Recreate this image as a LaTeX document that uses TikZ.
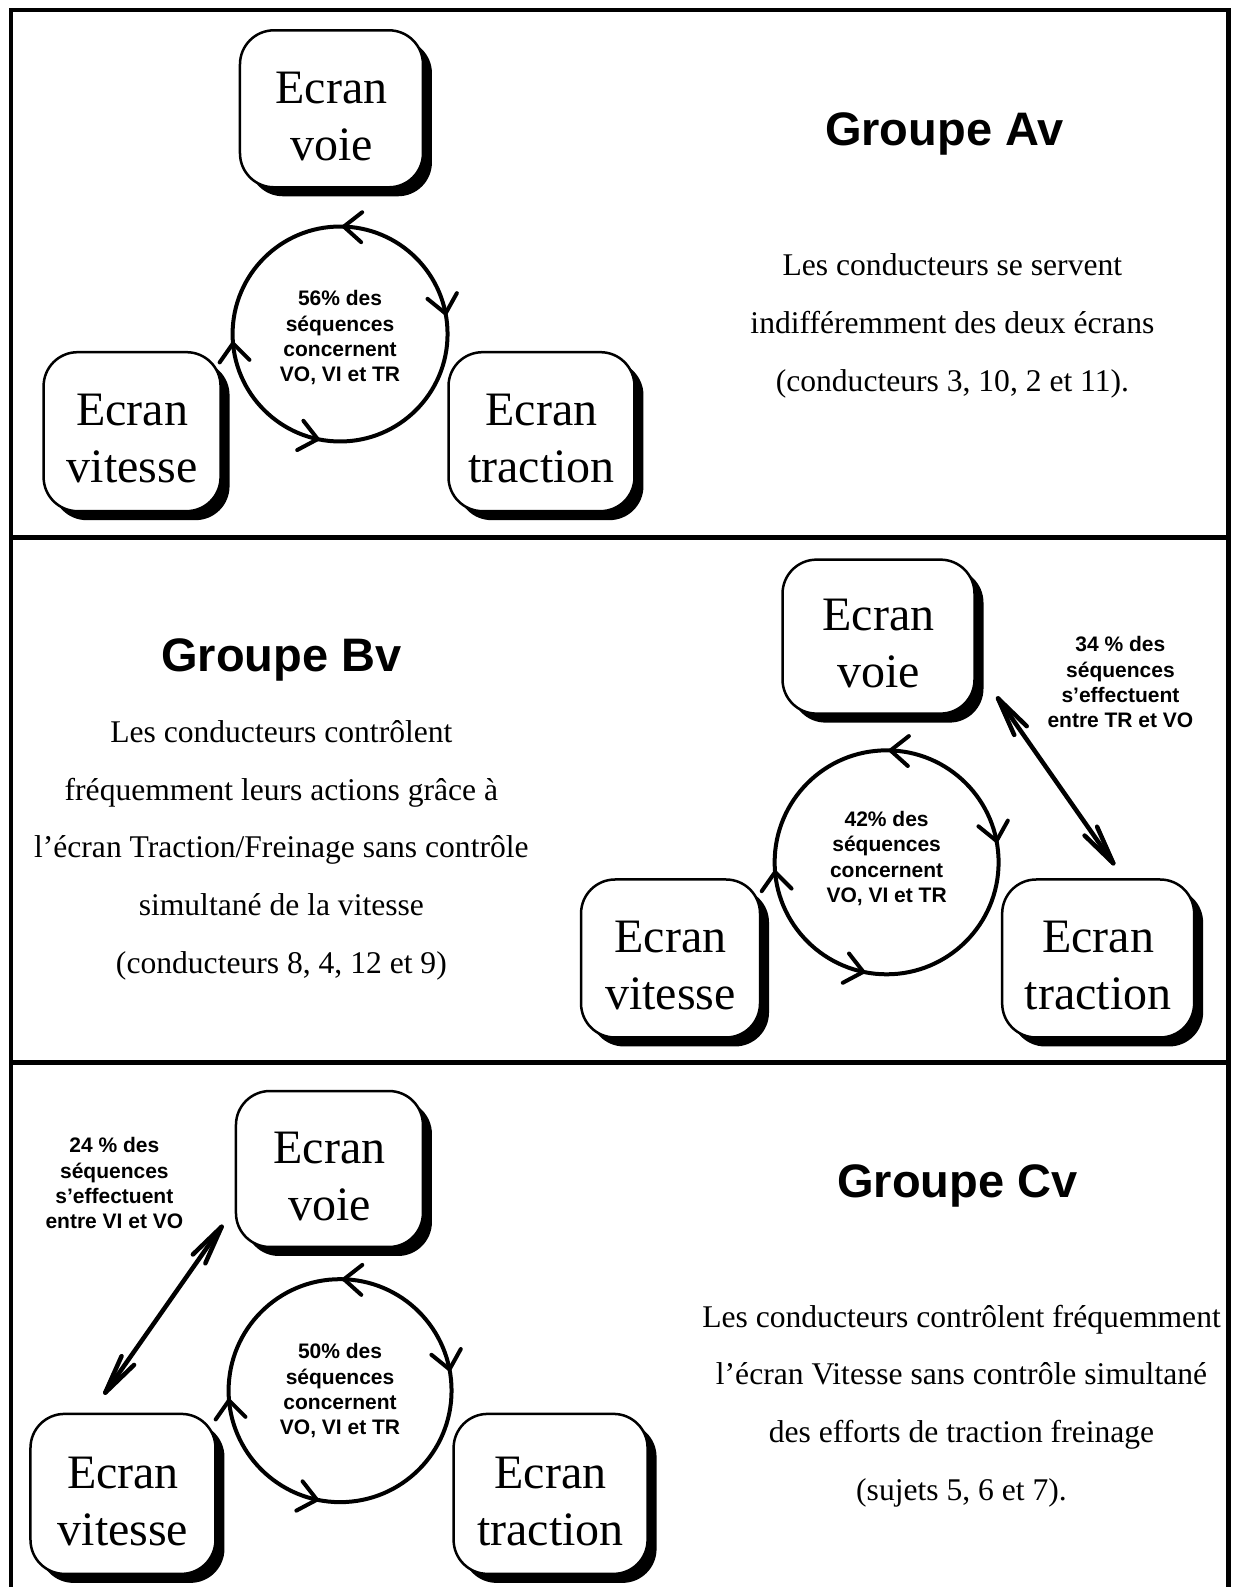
\documentclass[tikz,border=0pt]{standalone}
\usepackage{fontspec}
\setmainfont{Liberation Serif}
\setsansfont{Liberation Sans}
\usetikzlibrary{shadows,calc}
\newcommand\ecr[1]{\rule{0pt}{46pt}Ecran\\#1}
\tikzset{
 ecran/.style={draw, line width=2.5pt, rounded corners=34pt, fill=white, align=center,
   font=\fontsize{48}{57}\selectfont, inner sep=0pt, outer sep=0pt,
   drop shadow={fill=black, opacity=1, shadow xshift=9pt, shadow yshift=-9pt}},
 cyc/.style={draw, circle, line width=4pt, align=center, inner sep=0pt, outer sep=0pt,
   font=\sffamily\bfseries\fontsize{21}{25.3}\selectfont},
 titre/.style={font=\sffamily\bfseries\fontsize{47}{56}\selectfont},
 corps/.style={align=center, font=\fontsize{31.6}{57.7}\selectfont},
 pct/.style={align=center, font=\sffamily\bfseries\fontsize{21}{25.3}\selectfont},
 trait/.style={line width=4pt, line cap=round, line join=round},
 fleche/.style={line width=4.5pt, line cap=round, line join=round},
 cadre/.style={line width=4.5pt},
}
\begin{document}
\begin{tikzpicture}[x=1.0123pt, y=-1.0123pt]
\useasboundingbox (0,0) rectangle (1224,1568);
% frame
\draw[cadre] (11,1575) -- (11,10) -- (1214,10) -- (1214,1575);
\draw[cadre] (11,531) -- (1214,531);
\draw[cadre] (11,1050) -- (1214,1050);

% ---------- Panel A ----------
\node[ecran, minimum width=183pt, minimum height=157pt] (aVoie) at (327.5,107.5) {\ecr{voie}};
\node[ecran, minimum width=177pt, minimum height=159pt] (aVit) at (130.5,426.5) {\ecr{vitesse}};
\node[ecran, minimum width=186pt, minimum height=159pt] (aTrac) at (535,426.5) {\ecr{traction}};
\node[cyc, minimum size=215pt] (cA) at (336,330) {\rule{0pt}{23pt}56\% des\\séquences\\concernent\\VO, VI et TR};
\node[titre] (tA) at (933,132) {Groupe Av};
\node[corps] (bA) at (941,322) {Les conducteurs se servent\\indifféremment des deux écrans\\(conducteurs 3, 10, 2 et 11).};

% ---------- Panel B ----------
\node[ecran, minimum width=192pt, minimum height=154pt] (bVoie) at (868,629) {\ecr{voie}};
\node[ecran, minimum width=179pt, minimum height=158pt] (bVit) at (662.5,947) {\ecr{vitesse}};
\node[ecran, minimum width=192pt, minimum height=158pt] (bTrac) at (1085,947) {\ecr{traction}};
\node[cyc, minimum size=224pt] (cB) at (876,852) {42\% des\\séquences\\concernent\\VO, VI et TR\rule[-11pt]{0pt}{0pt}};
\node[titre] (tB) at (278,652) {Groupe Bv};
\node[corps] (bB) at (278,840) {Les conducteurs contrôlent\\fréquemment leurs actions grâce à\\l’écran Traction/Freinage sans contrôle\\simultané de la vitesse\\(conducteurs 8, 4, 12 et 9)};
\node[pct] (pB) at (1107,674) {34 \% des\\séquences\\s’effectuent\\entre TR et VO};
\coordinate (bA1) at (986,690);
\coordinate (bA2) at (1100,853);

% ---------- Panel C ----------
\node[ecran, minimum width=187pt, minimum height=156pt] (cVoie) at (325.5,1155) {\ecr{voie}};
\node[ecran, minimum width=185pt, minimum height=160pt] (cVit) at (121.5,1476) {\ecr{vitesse}};
\node[ecran, minimum width=194pt, minimum height=160pt] (cTrac) at (544,1476) {\ecr{traction}};
\node[cyc, minimum size=223pt] (cC) at (336,1374) {50\% des\\séquences\\concernent\\VO, VI et TR};
\node[titre] (tC) at (946,1172) {Groupe Cv};
\node[corps] (bC) at (950,1389) {Les conducteurs contrôlent fréquemment\\l’écran Vitesse sans contrôle simultané\\des efforts de traction freinage\\(sujets 5, 6 et 7).};
\node[pct] (pC) at (113,1169) {24 \% des\\séquences\\s’effectuent\\entre VI et VO};
\coordinate (cA1) at (219,1212);
\coordinate (cA2) at (104,1376);

% circle arrowheads
\foreach \c in {cA,cB,cC}{
  \foreach \a/\p/\q in {88/42/-38, 11/219/299, -102/152/232, 185/45/125}{
    \draw[trait] ($(\c.\a)+(\p:23)$) -- (\c.\a) -- ($(\c.\a)+(\q:23)$);
  }
}
% double arrows
\foreach \u/\v in {bA1/bA2, cA1/cA2}{
  \draw[fleche] (\u) -- (\v);
  \draw[fleche] ($(\u)!40pt!11:(\v)$) -- (\u) -- ($(\u)!40pt!-11:(\v)$);
  \draw[fleche] ($(\v)!40pt!11:(\u)$) -- (\v) -- ($(\v)!40pt!-11:(\u)$);
}
\end{tikzpicture}
\end{document}
